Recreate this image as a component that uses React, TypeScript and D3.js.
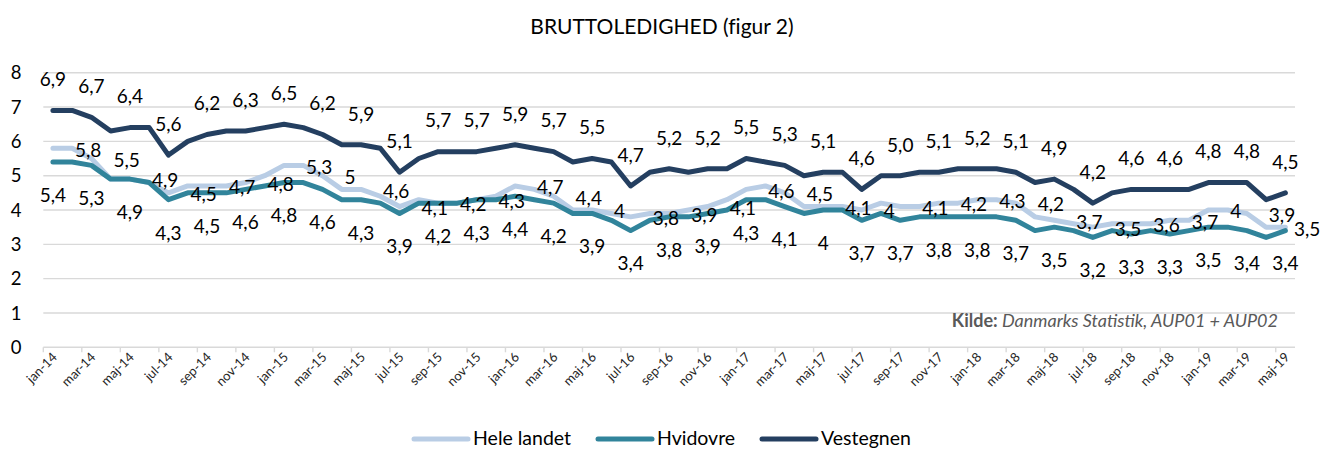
import React from 'react';
import * as d3 from 'd3';

const MONTHS = ['jan', 'feb', 'mar', 'apr', 'maj', 'jun', 'jul', 'aug', 'sep', 'okt', 'nov', 'dec'];
const categories: string[] = [];
for (let yr = 14; yr <= 19; yr++) {
  for (let m = 0; m < 12; m++) {
    if (yr === 19 && m > 4) break;
    categories.push(`${MONTHS[m]}-${yr}`);
  }
}

const heleLandet = [
  5.8, 5.8, 5.5, 4.9, 4.9, 4.8, 4.5, 4.7, 4.7, 4.7, 4.8, 5.0,
  5.3, 5.3, 5.0, 4.6, 4.6, 4.4, 4.1, 4.3, 4.2, 4.2, 4.3, 4.4,
  4.7, 4.6, 4.4, 4.0, 4.0, 3.9, 3.8, 3.9, 3.9, 4.0, 4.1, 4.3,
  4.6, 4.7, 4.5, 4.1, 4.1, 4.1, 4.0, 4.2, 4.1, 4.1, 4.2, 4.2,
  4.3, 4.3, 4.2, 3.8, 3.7, 3.6, 3.5, 3.6, 3.6, 3.6, 3.7, 3.7,
  4.0, 4.0, 3.9, 3.5, 3.5,
];
const hvidovre = [
  5.4, 5.4, 5.3, 4.9, 4.9, 4.8, 4.3, 4.5, 4.5, 4.5, 4.6, 4.7,
  4.8, 4.8, 4.6, 4.3, 4.3, 4.2, 3.9, 4.2, 4.2, 4.2, 4.3, 4.3,
  4.4, 4.3, 4.2, 3.9, 3.9, 3.7, 3.4, 3.7, 3.8, 3.8, 3.9, 4.0,
  4.3, 4.3, 4.1, 3.9, 4.0, 4.0, 3.7, 3.9, 3.7, 3.8, 3.8, 3.8,
  3.8, 3.8, 3.7, 3.4, 3.5, 3.4, 3.2, 3.4, 3.3, 3.4, 3.3, 3.4,
  3.5, 3.5, 3.4, 3.2, 3.4,
];
const vestegnen = [
  6.9, 6.9, 6.7, 6.3, 6.4, 6.4, 5.6, 6.0, 6.2, 6.3, 6.3, 6.4,
  6.5, 6.4, 6.2, 5.9, 5.9, 5.8, 5.1, 5.5, 5.7, 5.7, 5.7, 5.8,
  5.9, 5.8, 5.7, 5.4, 5.5, 5.4, 4.7, 5.1, 5.2, 5.1, 5.2, 5.2,
  5.5, 5.4, 5.3, 5.0, 5.1, 5.1, 4.6, 5.0, 5.0, 5.1, 5.1, 5.2,
  5.2, 5.2, 5.1, 4.8, 4.9, 4.6, 4.2, 4.5, 4.6, 4.6, 4.6, 4.6,
  4.8, 4.8, 4.8, 4.3, 4.5,
];

const yTicks = [0, 1, 2, 3, 4, 5, 6, 7, 8];
const seriesNames = ['Hele landet', 'Hvidovre', 'Vestegnen'];

const COLORS = ['#B9CDE5', '#31849B', '#243F60'];
const FONT = 'Lato, "Open Sans", sans-serif';

const W = 1325;
const H = 450;

const fmtGeneral = (v: number) => {
  const r = Math.round(v * 10);
  const s = r % 10 === 0 ? String(r / 10) : (r / 10).toFixed(1);
  return s.replace('.', ',');
};
const fmtFixed = (v: number) => v.toFixed(1).replace('.', ',');

export default function App() {
  const x = d3.scaleBand<number>().domain(d3.range(categories.length)).range([43.3, 1295]).paddingInner(0).paddingOuter(0);
  const y = d3.scaleLinear().domain([0, 8]).range([347.3, 72.7]);
  const cx = (i: number) => (x(i) as number) + x.bandwidth() / 2;

  const line = d3.line<number>().x((_, i) => cx(i)).y((d) => y(d)).curve(d3.curveLinear);

  const series = [
    { name: seriesNames[0], data: heleLandet, color: COLORS[0], pos: 'right', fmt: fmtGeneral },
    { name: seriesNames[1], data: hvidovre, color: COLORS[1], pos: 'below', fmt: fmtGeneral },
    { name: seriesNames[2], data: vestegnen, color: COLORS[2], pos: 'above', fmt: fmtFixed },
  ];

  const labelIdx = d3.range(0, categories.length, 2);
  const [x0, x1] = x.range();

  const legendItems = [
    { sx: 414, tx: 473 },
    { sx: 598, tx: 657 },
    { sx: 762, tx: 821 },
  ];

  return (
    <svg width={W} height={H} style={{ position: 'absolute', left: 0, top: 0, background: '#fff' }} fontFamily={FONT}>
      <rect x={0} y={0} width={W} height={H} fill="#fff" />
      <text x={662} y={34} textAnchor="middle" fontSize={21} fill="#000" style={{ fontVariantLigatures: 'none' }}>BRUTTOLEDIGHED (figur 2)</text>

      {yTicks.map((t) => (
        <g key={t}>
          <line x1={x0} x2={x1} y1={y(t)} y2={y(t)} stroke="#D9D9D9" strokeWidth={1.4} />
          <text x={16} y={y(t)} dy="0.36em" textAnchor="middle" fontSize={18.5} fill="#000">{t}</text>
        </g>
      ))}

      {d3.range(0, categories.length + 1, 2).map((i) => {
        const xx = i < categories.length ? (x(i) as number) : x1;
        return <line key={i} x1={xx} x2={xx} y1={y(0)} y2={y(0) + 5} stroke="#D9D9D9" strokeWidth={1.4} />;
      })}

      {labelIdx.map((i) => (
        <text
          key={i}
          transform={`translate(${cx(i) + 5},${358}) rotate(-45)`}
          textAnchor="end"
          fontSize={13}
          fill="#262626"
        >
          {categories[i]}
        </text>
      ))}

      <text x={1278} y={327} textAnchor="end" fontSize={18} fill="#595959">
        <tspan fontWeight="bold">Kilde:</tspan>
        <tspan fontStyle="italic"> Danmarks Statistik, AUP01 + AUP02</tspan>
      </text>

      {series.map((s) => (
        <path key={s.name} d={line(s.data) || ''} fill="none" stroke={s.color} strokeWidth={5} strokeLinejoin="round" strokeLinecap="round" />
      ))}

      {series.map((s) =>
        labelIdx.map((i) => {
          const v = s.data[i];
          const px = cx(i);
          const py = y(v);
          const txt = s.fmt(v);
          if (s.pos === 'above') {
            return <text key={s.name + i} x={px} y={py - 31} dy="0.36em" textAnchor="middle" fontSize={19} fill="#000">{txt}</text>;
          }
          if (s.pos === 'below') {
            return <text key={s.name + i} x={px} y={py + 33} dy="0.36em" textAnchor="middle" fontSize={19} fill="#000">{txt}</text>;
          }
          const approxW = txt.length * 9;
          const lx = Math.min(px + 22, 1321 - approxW);
          return <text key={s.name + i} x={lx} y={py + 1.5} dy="0.36em" textAnchor="start" fontSize={19} fill="#000">{txt}</text>;
        })
      )}

      {series.map((s, k) => (
        <g key={'lg' + s.name}>
          <line x1={legendItems[k].sx} x2={legendItems[k].sx + 54} y1={439} y2={439} stroke={s.color} strokeWidth={5} strokeLinecap="round" />
          <text x={legendItems[k].tx} y={445} fontSize={19.5} fill="#000">{s.name}</text>
        </g>
      ))}
    </svg>
  );
}
